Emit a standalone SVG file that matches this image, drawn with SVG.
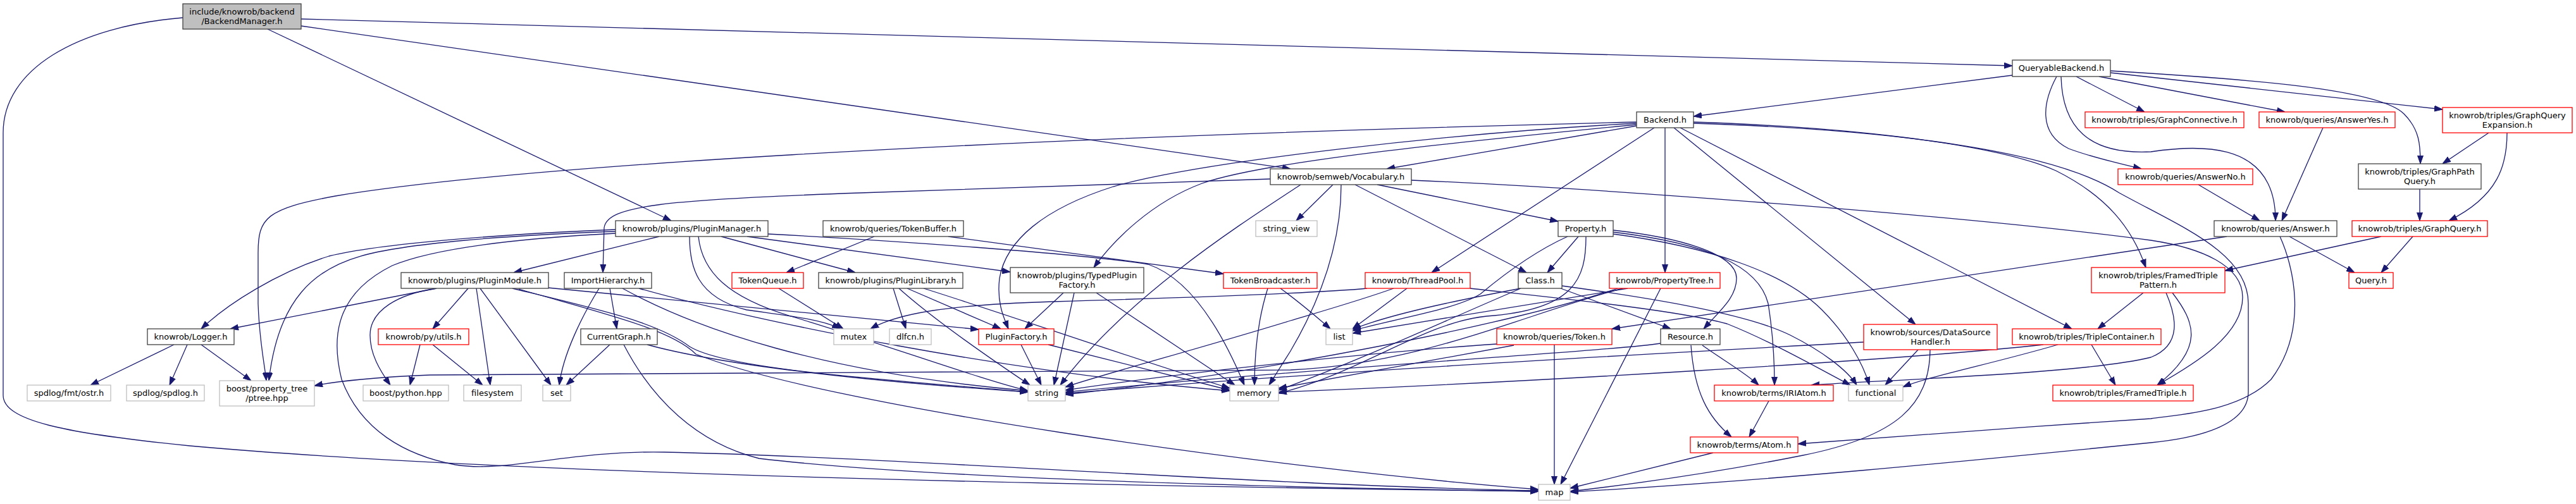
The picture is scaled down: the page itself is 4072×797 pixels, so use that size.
<svg xmlns="http://www.w3.org/2000/svg" width="4072" height="797" viewBox="0 0 4072 797">
<style>
text{font-family:"DejaVu Sans","Liberation Sans",sans-serif;font-size:13px;text-anchor:middle;fill:#000}
rect{fill:#fff;stroke-width:1.3}
.root{fill:#bfbfbf;stroke:#404040}
.k{stroke:#404040}
.r{stroke:#ff0000}
.g{stroke:#bfbfbf}
#edges path{fill:none;stroke:#191970;stroke-width:1.3;marker-end:url(#a)}
</style>
<defs>
<marker id="a" markerWidth="13" markerHeight="10" refX="13" refY="5" orient="auto" markerUnits="userSpaceOnUse"><path d="M0,0.5 L13,5 L0,9.5 z" fill="#191970" stroke="#191970" stroke-width="1"/></marker>
</defs>
<rect x="0" y="0" width="4072" height="797" style="fill:#fff;stroke:none"/>
<g id="edges">
<path d="M476,30 L3181,104"/>
<path d="M476,41 L2040,267"/>
<path d="M423,46 L1061,349"/>
<path d="M289,28 C120,42 5,110 5,210 L5,625 C5,665 100,685 300,705 C800,750 1700,768 2432,777"/>
<path d="M1042,374 L812,431"/>
<path d="M973,363 C800,370 600,385 520,405 C440,430 360,480 318,520"/>
<path d="M973,366 C800,372 640,385 570,405 C500,425 440,470 425,602"/>
<path d="M973,369 C800,378 680,395 620,420 C540,460 520,520 540,600 C570,680 640,720 720,735 C800,748 900,712 1050,715 C1400,722 2000,768 2432,776"/>
<path d="M1140,374 L1352,431"/>
<path d="M1181,374 L1597,430"/>
<path d="M1214,370 C1400,380 1700,400 1815,418 C1880,440 1930,520 1967,609"/>
<path d="M1090,374 C1090,420 1100,470 1180,490 C1250,500 1300,505 1328,520"/>
<path d="M1104,374 C1110,430 1150,470 1250,500 C1400,545 1550,600 1625,618"/>
<path d="M2008,283 L1360,305 C1050,316 960,325 955,360 L953,431"/>
<path d="M2056,292 C1960,355 1780,470 1676,609"/>
<path d="M2107,292 L2049,349"/>
<path d="M2142,292 L2413,431"/>
<path d="M2177,292 L2463,350"/>
<path d="M2120,292 C2120,380 2090,470 2040,555 L2006,609"/>
<path d="M2231,285 C2500,296 3100,340 3400,380 C3480,392 3545,420 3545,470 C3545,530 3470,575 3410,609"/>
<path d="M2587,193 C1500,220 800,265 530,310 C420,330 408,345 408,400 L408,480 C410,540 418,575 421,602"/>
<path d="M2587,195 C2300,210 1900,255 1760,295 C1650,330 1590,380 1580,440 C1575,480 1588,505 1594,520"/>
<path d="M2587,197 C2300,225 2000,255 1900,290 C1820,320 1760,380 1729,423"/>
<path d="M2587,199 L2192,267"/>
<path d="M2615,202 L2263,431"/>
<path d="M2632,202 L2632,431"/>
<path d="M2646,202 L3028,513"/>
<path d="M2656,202 L3275,520"/>
<path d="M2677,193 C2900,200 3150,225 3250,270 C3330,310 3370,360 3392,423"/>
<path d="M2677,195 C3000,205 3250,240 3350,305 C3450,360 3554,400 3554,480 L3554,620 C3554,680 3450,695 3400,700 C3100,730 2800,760 2482,778"/>
<path d="M3181,119 L2677,184"/>
<path d="M3282,121 L3390,177"/>
<path d="M3251,121 C3230,160 3220,210 3270,235 C3310,250 3350,258 3385,267"/>
<path d="M3258,121 C3260,200 3300,245 3400,240 C3500,225 3560,240 3585,290 C3595,310 3597,330 3597,349"/>
<path d="M3318,121 L3612,177"/>
<path d="M3336,115 L3861,173"/>
<path d="M3336,112 C3550,125 3760,140 3800,180 C3825,205 3826,230 3826,259"/>
<path d="M3934,210 L3861,259"/>
<path d="M3963,210 C3963,260 3950,310 3871,349"/>
<path d="M3825,299 L3825,349"/>
<path d="M3672,202 L3607,349"/>
<path d="M3475,292 L3572,349"/>
<path d="M3520,374 L2548,520"/>
<path d="M3619,374 L3722,431"/>
<path d="M3604,374 C3625,420 3650,520 3590,600 C3540,650 3450,655 3400,662 C3200,675 2900,697 2842,702"/>
<path d="M3764,374 L3517,428"/>
<path d="M3814,374 L3764,431"/>
<path d="M3388,463 L3316,520"/>
<path d="M3424,463 C3440,500 3450,545 3400,565 C3300,590 3000,600 2863,609"/>
<path d="M3434,463 C3470,510 3485,550 3410,609"/>
<path d="M3306,545 L3344,609"/>
<path d="M3253,545 C3150,575 3050,595 3008,612"/>
<path d="M3230,545 C3000,570 2400,605 2021,620"/>
<path d="M3032,553 L2980,609"/>
<path d="M3051,553 C3050,640 3000,690 2850,720 C2700,750 2560,768 2482,777"/>
<path d="M2946,541 C2700,555 2200,580 1684,622"/>
<path d="M2404,456 C2330,470 2200,495 2138,521"/>
<path d="M2467,456 L2641,520"/>
<path d="M2402,457 C2300,500 2150,570 2021,617"/>
<path d="M2469,452 C2600,470 2760,495 2830,530 C2880,555 2920,585 2935,609"/>
<path d="M2495,374 L2446,431"/>
<path d="M2478,374 C2420,400 2370,440 2340,465 C2300,490 2200,505 2138,523"/>
<path d="M2507,374 C2507,440 2490,490 2350,500 C2250,510 2150,590 2021,622"/>
<path d="M2550,364 C2650,375 2745,400 2745,440 C2745,470 2720,490 2693,520"/>
<path d="M2550,367 C2700,385 2780,420 2795,480 C2803,530 2805,570 2805,609"/>
<path d="M2550,370 C2700,390 2820,430 2880,490 C2920,530 2945,575 2955,609"/>
<path d="M2625,456 L2467,766"/>
<path d="M2573,456 L2138,527"/>
<path d="M2565,456 C2400,500 2250,575 2040,585 L680,593 C600,596 530,603 497,610"/>
<path d="M2557,456 C2400,510 2000,590 1684,624"/>
<path d="M2457,545 L2457,766"/>
<path d="M2366,544 C2200,555 1900,585 1684,617"/>
<path d="M2393,546 L2021,614"/>
<path d="M2691,546 C2720,567 2760,590 2780,609"/>
<path d="M2673,546 C2678,620 2700,660 2737,691"/>
<path d="M2625,543 C2550,555 2100,580 1684,620"/>
<path d="M2796,634 L2765,691"/>
<path d="M2708,716 L2482,772"/>
<path d="M2224,456 L2138,520"/>
<path d="M2161,456 C2100,462 1900,470 1664,477 C1500,482 1420,495 1376,520"/>
<path d="M2203,456 C2150,475 2080,495 2040,507 C1900,550 1750,590 1684,612"/>
<path d="M2324,456 C2450,470 2650,490 2730,512 C2800,540 2870,580 2925,609"/>
<path d="M2004,456 C1990,500 1983,550 1983,609"/>
<path d="M2024,456 C2050,475 2080,500 2103,520"/>
<path d="M1614,545 L1646,609"/>
<path d="M1657,545 L1944,617"/>
<path d="M1681,463 L1620,520"/>
<path d="M1698,463 L1666,609"/>
<path d="M1733,463 L1952,609"/>
<path d="M1412,456 L1432,520"/>
<path d="M1434,456 L1582,520"/>
<path d="M1421,456 C1470,500 1540,550 1628,609"/>
<path d="M1460,456 C1600,500 1800,570 1944,614"/>
<path d="M1382,374 L1243,431"/>
<path d="M1499,374 L1934,433"/>
<path d="M1231,456 L1333,520"/>
<path d="M690,456 L364,520"/>
<path d="M690,456 C630,465 585,490 585,530 C585,560 600,585 617,609"/>
<path d="M740,456 L684,520"/>
<path d="M753,456 L775,609"/>
<path d="M759,456 L871,609"/>
<path d="M866,455 L1547,521"/>
<path d="M810,456 C950,490 1040,510 1090,548 C1150,585 1400,600 1625,620"/>
<path d="M820,457 C950,495 1060,520 1100,560 C1300,640 2000,740 2432,774"/>
<path d="M947,456 C920,500 890,560 884,609"/>
<path d="M964,456 L975,520"/>
<path d="M984,456 C1100,520 1300,590 1625,618"/>
<path d="M1010,456 C1200,510 1600,590 1944,618"/>
<path d="M964,545 L895,609"/>
<path d="M986,545 C1030,630 1100,700 1200,725 C1500,760 2100,772 2432,777"/>
<path d="M1023,545 C1150,580 1400,605 1625,620"/>
<path d="M664,545 L648,609"/>
<path d="M684,545 L763,609"/>
<path d="M275,545 L143,609"/>
<path d="M296,545 L268,609"/>
<path d="M318,545 L397,602"/>
</g>
<g id="n_bm"><rect class="root" x="289" y="6" width="187" height="40"/><text x="382.5" y="23">include/knowrob/backend</text><text x="382.5" y="38">/BackendManager.h</text></g>
<g id="n_qb"><rect class="k" x="3181" y="95" width="155" height="26"/><text x="3258.5" y="112">QueryableBackend.h</text></g>
<g id="n_be"><rect class="k" x="2587" y="177" width="90" height="25"/><text x="2632" y="194">Backend.h</text></g>
<g id="n_gc"><rect class="r" x="3296" y="177" width="251" height="25"/><text x="3421.5" y="194">knowrob/triples/GraphConnective.h</text></g>
<g id="n_ay"><rect class="r" x="3571" y="177" width="215" height="25"/><text x="3678.5" y="194">knowrob/queries/AnswerYes.h</text></g>
<g id="n_gqe"><rect class="r" x="3861" y="170" width="205" height="40"/><text x="3963.5" y="187">knowrob/triples/GraphQuery</text><text x="3963.5" y="202">Expansion.h</text></g>
<g id="n_vo"><rect class="k" x="2008" y="267" width="223" height="25"/><text x="2119.5" y="284">knowrob/semweb/Vocabulary.h</text></g>
<g id="n_an"><rect class="r" x="3348" y="267" width="213" height="25"/><text x="3454.5" y="284">knowrob/queries/AnswerNo.h</text></g>
<g id="n_gpq"><rect class="k" x="3728" y="259" width="194" height="40"/><text x="3825" y="276">knowrob/triples/GraphPath</text><text x="3825" y="291">Query.h</text></g>
<g id="n_pm"><rect class="k" x="973" y="349" width="241" height="25"/><text x="1093.5" y="366">knowrob/plugins/PluginManager.h</text></g>
<g id="n_tb"><rect class="k" x="1301" y="349" width="222" height="25"/><text x="1412" y="366">knowrob/queries/TokenBuffer.h</text></g>
<g id="n_sv"><rect class="g" x="1985" y="349" width="97" height="25"/><text x="2033.5" y="366">string_view</text></g>
<g id="n_pr"><rect class="k" x="2463" y="349" width="87" height="25"/><text x="2506.5" y="366">Property.h</text></g>
<g id="n_as"><rect class="k" x="3500" y="349" width="194" height="25"/><text x="3597" y="366">knowrob/queries/Answer.h</text></g>
<g id="n_gq"><rect class="r" x="3718" y="349" width="214" height="25"/><text x="3825" y="366">knowrob/triples/GraphQuery.h</text></g>
<g id="n_pmo"><rect class="k" x="634" y="431" width="233" height="25"/><text x="750.5" y="448">knowrob/plugins/PluginModule.h</text></g>
<g id="n_ih"><rect class="k" x="892" y="431" width="138" height="25"/><text x="961" y="448">ImportHierarchy.h</text></g>
<g id="n_tq"><rect class="r" x="1157" y="431" width="113" height="25"/><text x="1213.5" y="448">TokenQueue.h</text></g>
<g id="n_pl"><rect class="k" x="1294" y="431" width="228" height="25"/><text x="1408" y="448">knowrob/plugins/PluginLibrary.h</text></g>
<g id="n_tpf"><rect class="k" x="1597" y="423" width="211" height="40"/><text x="1702.5" y="440">knowrob/plugins/TypedPlugin</text><text x="1702.5" y="455">Factory.h</text></g>
<g id="n_tbr"><rect class="r" x="1934" y="431" width="148" height="25"/><text x="2008" y="448">TokenBroadcaster.h</text></g>
<g id="n_tp"><rect class="r" x="2158" y="431" width="166" height="25"/><text x="2241" y="448">knowrob/ThreadPool.h</text></g>
<g id="n_cl"><rect class="k" x="2400" y="431" width="69" height="25"/><text x="2434.5" y="448">Class.h</text></g>
<g id="n_pt"><rect class="r" x="2544" y="431" width="175" height="25"/><text x="2631.5" y="448">knowrob/PropertyTree.h</text></g>
<g id="n_ftp"><rect class="r" x="3306" y="423" width="211" height="40"/><text x="3411.5" y="440">knowrob/triples/FramedTriple</text><text x="3411.5" y="455">Pattern.h</text></g>
<g id="n_qy"><rect class="r" x="3713" y="431" width="70" height="25"/><text x="3748" y="448">Query.h</text></g>
<g id="n_lg"><rect class="k" x="233" y="520" width="137" height="25"/><text x="301.5" y="537">knowrob/Logger.h</text></g>
<g id="n_pu"><rect class="r" x="598" y="520" width="143" height="25"/><text x="669.5" y="537">knowrob/py/utils.h</text></g>
<g id="n_cg"><rect class="k" x="918" y="520" width="121" height="25"/><text x="978.5" y="537">CurrentGraph.h</text></g>
<g id="n_mx"><rect class="g" x="1318" y="520" width="63" height="25"/><text x="1349.5" y="537">mutex</text></g>
<g id="n_dl"><rect class="g" x="1406" y="520" width="66" height="25"/><text x="1439" y="537">dlfcn.h</text></g>
<g id="n_pf"><rect class="r" x="1547" y="520" width="119" height="25"/><text x="1606.5" y="537">PluginFactory.h</text></g>
<g id="n_li"><rect class="g" x="2096" y="520" width="42" height="25"/><text x="2117" y="537">list</text></g>
<g id="n_tk"><rect class="r" x="2366" y="520" width="182" height="25"/><text x="2457" y="537">knowrob/queries/Token.h</text></g>
<g id="n_rs"><rect class="k" x="2625" y="520" width="94" height="25"/><text x="2672" y="537">Resource.h</text></g>
<g id="n_dsh"><rect class="r" x="2946" y="513" width="211" height="40"/><text x="3051.5" y="530">knowrob/sources/DataSource</text><text x="3051.5" y="545">Handler.h</text></g>
<g id="n_tc"><rect class="r" x="3181" y="520" width="235" height="25"/><text x="3298.5" y="537">knowrob/triples/TripleContainer.h</text></g>
<g id="n_sf"><rect class="g" x="43" y="609" width="132" height="25"/><text x="109" y="626">spdlog/fmt/ostr.h</text></g>
<g id="n_ss"><rect class="g" x="200" y="609" width="123" height="25"/><text x="261.5" y="626">spdlog/spdlog.h</text></g>
<g id="n_ptr"><rect class="g" x="347" y="602" width="150" height="40"/><text x="422" y="619">boost/property_tree</text><text x="422" y="634">/ptree.hpp</text></g>
<g id="n_py"><rect class="g" x="574" y="609" width="135" height="25"/><text x="641.5" y="626">boost/python.hpp</text></g>
<g id="n_fs"><rect class="g" x="733" y="609" width="91" height="25"/><text x="778.5" y="626">filesystem</text></g>
<g id="n_st"><rect class="g" x="858" y="609" width="44" height="25"/><text x="880" y="626">set</text></g>
<g id="n_str"><rect class="g" x="1625" y="609" width="59" height="25"/><text x="1654.5" y="626">string</text></g>
<g id="n_mem"><rect class="g" x="1944" y="609" width="77" height="25"/><text x="1982.5" y="626">memory</text></g>
<g id="n_fn"><rect class="g" x="2922" y="609" width="86" height="25"/><text x="2965" y="626">functional</text></g>
<g id="n_iri"><rect class="r" x="2710" y="609" width="188" height="25"/><text x="2804" y="626">knowrob/terms/IRIAtom.h</text></g>
<g id="n_ft"><rect class="r" x="3245" y="609" width="222" height="25"/><text x="3356" y="626">knowrob/triples/FramedTriple.h</text></g>
<g id="n_at"><rect class="r" x="2672" y="691" width="170" height="25"/><text x="2757" y="708">knowrob/terms/Atom.h</text></g>
<g id="n_map"><rect class="g" x="2432" y="766" width="50" height="25"/><text x="2457" y="783">map</text></g>
</svg>
